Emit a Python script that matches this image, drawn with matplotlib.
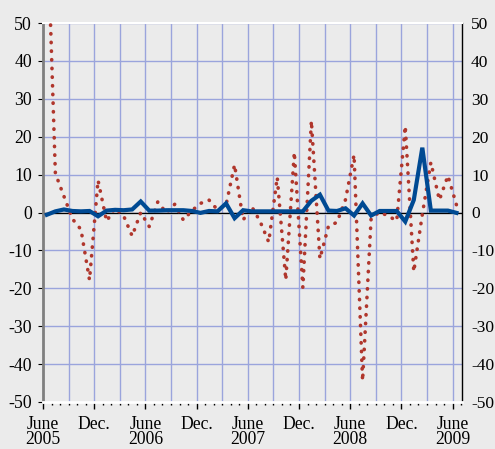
import matplotlib
matplotlib.use("Agg")
import matplotlib.pyplot as plt
from matplotlib.ticker import FixedLocator, MultipleLocator

plt.rcParams['font.family'] = ['Liberation Serif', 'DejaVu Serif']
plt.rcParams['axes.unicode_minus'] = False

# monthly observations, June 2005 .. June 2009
months = list(range(49))

red_values = [80, 10.3, 4.3, -1.7, -4.5, -17.8, 8.5, -2.3, 1.2, -0.9,
              -6.2, 0.0, -3.7, 2.8, -0.1, 2.2, -2.0, 0.5, 2.4, 3.3,
              0.7, 2.0, 12.6, -2.0, 1.6, -2.4, -7.8, 9.3, -17.8, 15.9,
              -19.8, 24.2, -12.2, -3.6, -2.6, 3.4, 15.2, -44.4, -1.5, 0.1,
              -0.9, -2.2, 22.8, -15.6, -0.5, 13.2, 3.3, 9.7, 2.0]

blue_values = [-0.6, 0.3, 0.8, 0.4, 0.3, 0.4, -1.0, 0.5, 0.7, 0.6,
               0.8, 2.9, 0.5, 0.5, 0.6, 0.6, 0.6, 0.4, -0.1, 0.4,
               0.3, 2.4, -1.5, 0.6, 0.3, 0.3, 0.3, 0.3, 0.3, 0.3,
               0.3, 3.1, 4.7, 0.5, 0.4, 1.1, -0.8, 2.4, -0.8, 0.4,
               0.4, 0.4, -2.4, 3.3, 17.1, 0.5, 0.5, 0.5, -0.1]

tick_months = [0, 6, 12, 18, 24, 30, 36, 42, 48]
tick_labels = ["June\n2005", "Dec.", "June\n2006", "Dec.", "June\n2007",
               "Dec.", "June\n2008", "Dec.", "June\n2009"]
y_ticks = [-50, -40, -30, -20, -10, 0, 10, 20, 30, 40, 50]

x = [m + 0.45 for m in months]

bg = '#ebebeb'
fig = plt.figure(figsize=(4.95, 4.49), dpi=100)
fig.patch.set_facecolor(bg)
ax = fig.add_axes([43 / 495, 1 - 402 / 449, 419 / 495, 379 / 449])
ax.set_facecolor(bg)

ax.set_xlim(0, 49.1)
ax.set_ylim(-50, 50)

# grid every quarter and every 10 units
ax.xaxis.set_major_locator(FixedLocator(tick_months))
ax.xaxis.set_minor_locator(MultipleLocator(1))
for gx in range(3, 49, 3):
    ax.axvline(gx, color='#9aa4dc', lw=1, zorder=1)
for gy in y_ticks:
    ax.axhline(gy, color='#9aa4dc', lw=1, zorder=1)
ax.axhline(-0.35, color='white', lw=1.2, zorder=2)
ax.axhline(0, color='black', lw=1, zorder=2)

ax.plot(x, red_values, color='#b0362c', lw=2.6, linestyle=(0, (0.1, 2.3)),
        dash_capstyle='round', zorder=3)
ax.plot(x, blue_values, color='#004a93', lw=3.0, solid_joinstyle='miter', zorder=4)

ax.set_xticklabels(tick_labels, fontsize=12.7, linespacing=0.86)
ax.set_yticks(y_ticks)
ax.tick_params(axis='y', left=False, right=False, labelleft=True, labelright=False,
               labelsize=12.8, pad=4.5)
ax.tick_params(axis='x', which='major', direction='out', length=5, width=1, pad=5)
ax.tick_params(axis='x', which='minor', direction='out', length=2.5, width=1)

# right-hand scale
ax2 = ax.twinx()
ax2.set_ylim(-50, 50)
ax2.set_yticks(y_ticks)
ax2.tick_params(axis='y', right=False, labelsize=12.5, pad=3)
for s in ax2.spines.values():
    s.set_visible(False)

ax.spines['left'].set_color('#7f7f7f')
ax.spines['left'].set_linewidth(2)
ax.spines['right'].set_color('black')
ax.spines['right'].set_linewidth(1)
ax.spines['top'].set_color('white')
ax.spines['top'].set_linewidth(1.5)
ax.spines['bottom'].set_color('white')
ax.spines['bottom'].set_linewidth(2)

fig.savefig('out.png', dpi=100, facecolor=bg)
